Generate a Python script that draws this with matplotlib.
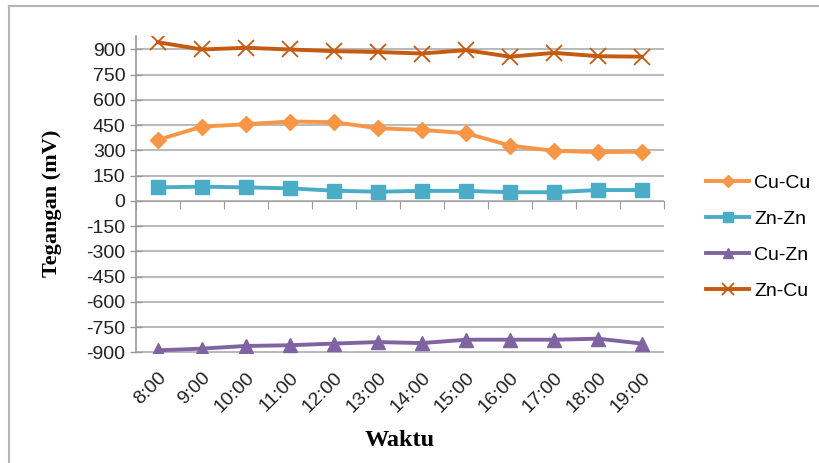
import numpy as np
import matplotlib.pyplot as plt
from matplotlib.lines import Line2D

times = ["8:00", "9:00", "10:00", "11:00", "12:00", "13:00",
         "14:00", "15:00", "16:00", "17:00", "18:00", "19:00"]
cu_cu = [363, 442, 456, 472, 468, 432, 422, 403, 329, 298, 290, 293]
zn_zn = [81, 85, 81, 75, 61, 55, 60, 60, 52, 52, 65, 65]
cu_zn = [-887, -877, -861, -857, -847, -838, -844, -824, -824, -824, -818, -847]
zn_cu = [943, 900, 910, 900, 890, 885, 876, 896, 857, 880, 860, 857]

fig = plt.figure(figsize=(8.2, 4.63), dpi=100)
ax = fig.add_axes([136/820, 1 - 352.5/463, 528/820, 316.5/463])

x = np.arange(len(times))
ax.plot(x, cu_cu, color="#f79646", lw=2.8, marker="D", ms=8.5, label="Cu-Cu", zorder=3)
ax.plot(x, zn_zn, color="#4bacc6", lw=2.8, marker="s", ms=9.5, label="Zn-Zn", zorder=3)
ax.plot(x, cu_zn, color="#8064a2", lw=2.8, marker="^", ms=10, label="Cu-Zn", zorder=3)
ax.plot(x, zn_cu, color="#c55a11", lw=2.8, marker="x", ms=11, mew=1.3, label="Zn-Cu", zorder=3)

ymin, ymax = -900, 980
ax.set_ylim(ymin, ymax)
ax.set_xlim(-0.5, len(times) - 0.5)
yt = np.arange(-900, 901, 150)
ax.set_yticks(yt)
ax.set_yticklabels([str(v) for v in yt], fontsize=14, family="Liberation Sans", color="#222222")
ax.grid(axis="y", color="#a6a6a6", lw=1.1)
ax.set_axisbelow(True)
ax.tick_params(axis="y", direction="inout", length=9, color="#999999", width=1, pad=3)

ax.set_xticks(x)
ax.set_xticklabels(times, rotation=45, ha="right", rotation_mode="anchor",
                   fontsize=14, family="Liberation Sans", color="#222222")
ax.tick_params(axis="x", length=0, pad=12)

for s in ["top", "right", "bottom"]:
    ax.spines[s].set_visible(False)
ax.spines["left"].set_color("#999999")
ax.spines["left"].set_linewidth(1.2)

# category axis crosses at zero
sec = ax.secondary_xaxis((0 - ymin) / (ymax - ymin))
sec.set_xticks(np.arange(-0.5, len(times) + 0.5, 1.0))
sec.set_xticklabels([])
sec.spines["bottom"].set_color("#999999")
sec.tick_params(axis="x", direction="out", length=6, color="#999999")

ax.set_ylabel("Tegangan (mV)", fontsize=16, fontweight="bold", family="Liberation Serif")
ax.yaxis.set_label_coords(-0.14, 0.47)
fig.text(400/820, 1 - 441/463, "Waktu", fontsize=17.5, fontweight="bold",
         family="Liberation Serif", ha="center", va="center")

fig.legend(loc="center left", bbox_to_anchor=(689/820, 1 - 237/463), frameon=False,
           prop={"family": "Liberation Sans", "size": 14}, labelspacing=0.95,
           handlelength=2.2, handletextpad=0.25, markerscale=0.75)

# outer chart border
fig.add_artist(Line2D([9/820, 9/820], [0, 1 - 6/463], color="#b5b5b5", lw=1.5))
fig.add_artist(Line2D([9/820, 1], [1 - 6/463, 1 - 6/463], color="#b5b5b5", lw=1.5))

fig.savefig("out.png", dpi=100)
